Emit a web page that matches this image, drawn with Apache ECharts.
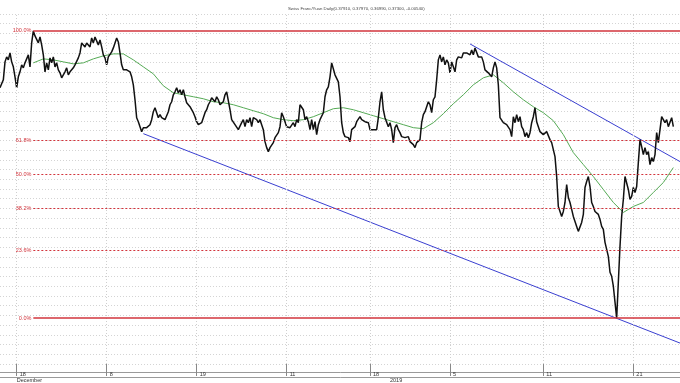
<!DOCTYPE html>
<html><head><meta charset="utf-8">
<script src="https://cdn.jsdelivr.net/npm/echarts@6/dist/echarts.min.js"></script>
<style>html,body{margin:0;padding:0;background:#fff}#c{width:680px;height:383px}</style>
</head><body><div id="c"></div>
<script>
const chartTitle = 'Swiss Franc/Yuan Daily(0.37910, 0.37970, 0.36990, 0.37300, -0.00540)';
// daily close, expressed as offset above the swing low (swing high = 288)
const price = [
  231,233,239,257,262,259,266,257,252,242, 231,242,247,254,251,256,257,264,252,276,
  288,283,284,276,282,274,264,247,256,249, 261,256,262,252,256,249,246,241,239,247,
  251,244,247,246,251,254,256,261,266,276, 277,272,276,274,272,281,276,282,281,274,
  279,272,264,261,254,262,264,267,271,276, 281,277,266,254,249,247,249,248,247,242,
  234,219,201,197,192,187,191,189,191,192, 194,199,207,211,206,201,204,201,202,199,
  201,207,214,217,224,227,231,226,229,224, 229,222,216,217,212,209,206,202,197,194,
  192,196,201,206,209,214,217,221,222,217, 222,219,214,212,217,224,227,226,209,199,
  199,194,192,189,187,196,199,192,199,196, 201,192,201,202,199,196,199,194,189,177,
  171,167,171,172,176,181,182,186,192,206, 202,201,192,194,191,192,196,192,199,196,
  214,216,209,199,202,197,189,199,189,197, 184,194,199,201,206,222,229,232,242,256,
  254,244,246,237,222,196,186,182,184,181, 177,189,191,192,197,199,202,199,201,197,
  199,196,189,191,189,191,189,201,217,227, 209,201,202,192,196,189,176,191,194,189,
  186,182,184,181,179,182,177,179,174,171, 176,177,179,196,204,207,212,217,214,206,
  219,222,239,259,264,257,262,254,259,256, 246,257,252,247,259,262,264,261,266,267,
  266,267,264,269,264,271,269,262,264,262, 257,249,247,246,247,242,251,257,251,234,
  201,199,196,194,194,192,189,182,202,196, 204,197,202,192,189,182,186,181,186,196,
  202,211,197,192,187,186,184,182,187,189, 179,176,174,162,142,112,107,102,107,116,
  134,121,116,109,102,97,92,87,89,96, 104,131,137,142,132,116,112,107,109,104,
  99,92,89,76,69,62,46,42,32,16, 0,36,72,102,119,142,144,129,119,122,
  131,126,132,156,179,172,164,171,164,167, 154,161,157,164,186,176,189,202,199,196,
  199,192,191,201,192];
const maStart = 20, maStep = 6;
const movingAvg = [256,260,259,257,255,256,260,263,265,265,259,252,245,233,226,224,222,220,217,216,
  214,211,208,205,201,199,198,199,202,206,210,211,209,206,203,200,197,194,191,190,
  196,205,215,224,234,241,244,236,227,219,212,206,198,184,166,154,142,129,116,106,
  112,116,126,136,151];
const fibLow = 0, fibHigh = 288, fibStartIndex = 20, lastIndex = 408;
const fibRatios = [0, 0.236, 0.382, 0.5, 0.618, 1];
const fibLabels = ['0.0%', '23.6%', '38.2%', '50.0%', '61.8%', '100.0%'];
const upperTrend = [[282, 275], [408, 157]];
const lowerTrend = [[86, 185], [408, -25]];
const tickIndex = [10, 64, 118, 172, 222, 270, 326, 380];
const tickLabels = ['18', '8', '19', '11', '18', '5', '11', '21'];
const periodIndex = [10, 234];
const periodLabels = ['December', '2019'];

const chart = echarts.init(document.getElementById('c'), null, {renderer: 'canvas'});
const red = '#d2343c';
const fibData = fibRatios.map((r, k) => {
  const lvl = fibLow + (fibHigh - fibLow) * r;
  const solid = (r === 0 || r === 1);
  return [
    {coord: [fibStartIndex, lvl], name: fibLabels[k],
     lineStyle: {type: solid ? 'solid' : [2, 2], width: solid ? 1.6 : 1, color: red}},
    {coord: [lastIndex, lvl]}
  ];
});

chart.setOption({
  animation: false,
  backgroundColor: '#fff',
  title: {text: chartTitle, left: 283, top: 2,
    textStyle: {fontSize: 4.3, fontWeight: 'normal', color: '#444', fontFamily: 'Arial'}},
  grid: {left: 0, right: 0, top: 14, bottom: 18, containLabel: false},
  graphic: [{type: 'rect', left: -1, top: 372, shape: {width: 682, height: 5},
    style: {fill: '#fff', stroke: '#9a9a9a', lineWidth: 1}, z: -1}],
  xAxis: [{
    type: 'value', min: 0, max: lastIndex,
    axisLine: {show: false, onZero: false}, splitLine: {show: false},
    axisTick: {show: true, customValues: tickIndex, length: 12, lineStyle: {color: '#888'}},
    axisLabel: {show: true, customValues: tickIndex, margin: 7, fontSize: 5.5, color: '#333',
      align: 'left', verticalAlign: 'top', padding: [0, 0, 0, 3],
      formatter: v => tickLabels[tickIndex.indexOf(v)]}
  }, {
    type: 'value', min: 0, max: lastIndex, position: 'bottom',
    axisLine: {show: false, onZero: false}, splitLine: {show: false},
    axisTick: {show: false},
    axisLabel: {show: true, customValues: periodIndex, margin: 13, fontSize: 5.5, color: '#333',
      align: 'left', verticalAlign: 'top',
      formatter: v => periodLabels[periodIndex.indexOf(v)]}
  }],
  yAxis: [{
    type: 'value', min: -46, max: 305, show: false, splitLine: {show: false}
  }, {
    type: 'value', min: 0, max: 36, interval: 1,
    axisLine: {show: false}, axisTick: {show: false}, axisLabel: {show: false},
    splitLine: {show: true, lineStyle: {color: '#d4d4d4', type: [1, 2]}}
  }],
  series: [
    {type: 'line', data: [], silent: true, z: 1,
     markLine: {silent: true, symbol: 'none', label: {show: false},
       lineStyle: {color: '#cfcfcf', type: [1, 2], width: 1},
       data: tickIndex.map(t => ({xAxis: t}))}},
    {type: 'line', data: [], silent: true, z: 2,
     markLine: {silent: true, symbol: 'none',
       label: {show: true, position: 'start', distance: 2, fontSize: 5.5, color: red,
         formatter: p => p.name},
       data: fibData}},
    {type: 'line', name: 'MA', showSymbol: false, z: 3,
     lineStyle: {color: '#55aa55', width: 1},
     data: movingAvg.map((v, k) => [maStart + maStep * k, v])},
    {type: 'line', name: 'upper', showSymbol: false, z: 3,
     lineStyle: {color: '#3a3fd0', width: 1}, data: upperTrend},
    {type: 'line', name: 'lower', showSymbol: false, z: 3,
     lineStyle: {color: '#3a3fd0', width: 1}, data: lowerTrend},
    {type: 'line', name: 'price', showSymbol: false, z: 4,
     lineStyle: {color: '#111', width: 1.5},
     data: price.map((v, i) => [i, v])}
  ]
});
</script>
</body></html>
